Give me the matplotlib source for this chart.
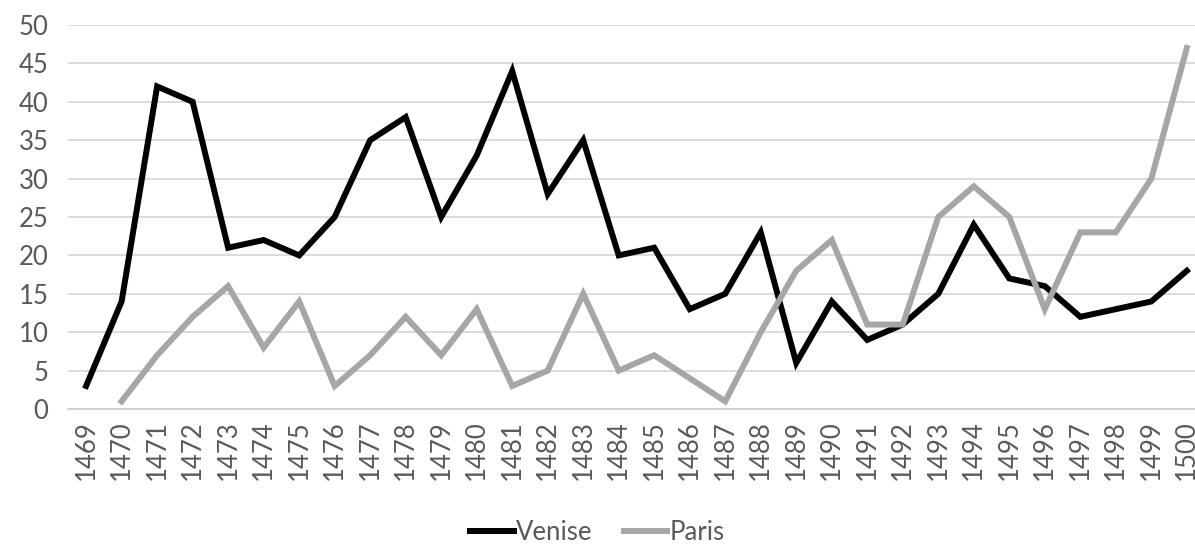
import matplotlib
matplotlib.use("Agg")
import matplotlib.pyplot as plt
import numpy as np

# Données
years = list(range(1469, 1501))
venise = [3, 14, 42, 40, 21, 22, 20, 25, 35, 38, 25, 33, 44, 28, 35, 20,
          21, 13, 15, 23, 6, 14, 9, 11, 15, 24, 17, 16, 12, 13, 14, 18]
paris = [np.nan, 1, 7, 12, 16, 8, 14, 3, 7, 12, 7, 13, 3, 5, 15, 5,
         7, 4, 1, 10, 18, 22, 11, 11, 25, 29, 25, 13, 23, 23, 30, 47]

plt.rcParams["font.family"] = ["Lato", "DejaVu Sans"]
text_color = "#595959"

fig = plt.figure(figsize=(11.95, 5.49), dpi=100)
ax = fig.add_axes([68 / 1195, 140 / 549, 1127 / 1195, 384 / 549])

ax.plot(years, venise, color="black", lw=4.3, label="Venise",
        solid_joinstyle="miter", clip_on=False)
ax.plot(years, paris, color="#a6a6a6", lw=4.3, label="Paris",
        solid_joinstyle="miter", clip_on=False)

ax.set_xlim(1468.49, 1500.23)
ax.set_ylim(0, 50)
ax.set_yticks(range(0, 51, 5))
ax.set_xticks(years)
ax.set_xticklabels([str(y) for y in years], rotation=90)
ax.yaxis.grid(True, color="#d9d9d9", lw=1.3)
ax.set_axisbelow(True)
for s in ["top", "right", "left"]:
    ax.spines[s].set_visible(False)
ax.spines["bottom"].set_color("#d0d0d0")
ax.spines["bottom"].set_linewidth(1.3)
ax.tick_params(axis="both", length=0, labelsize=18.5, colors=text_color, pad=8)
ax.tick_params(axis="y", pad=14)

fig.legend(loc="lower center", bbox_to_anchor=(0.5, -0.035), ncol=2,
           frameon=False, fontsize=18.5, labelcolor=text_color,
           handlelength=1.7, handletextpad=0.1, columnspacing=1.2)

fig.savefig("out.png", dpi=100)
